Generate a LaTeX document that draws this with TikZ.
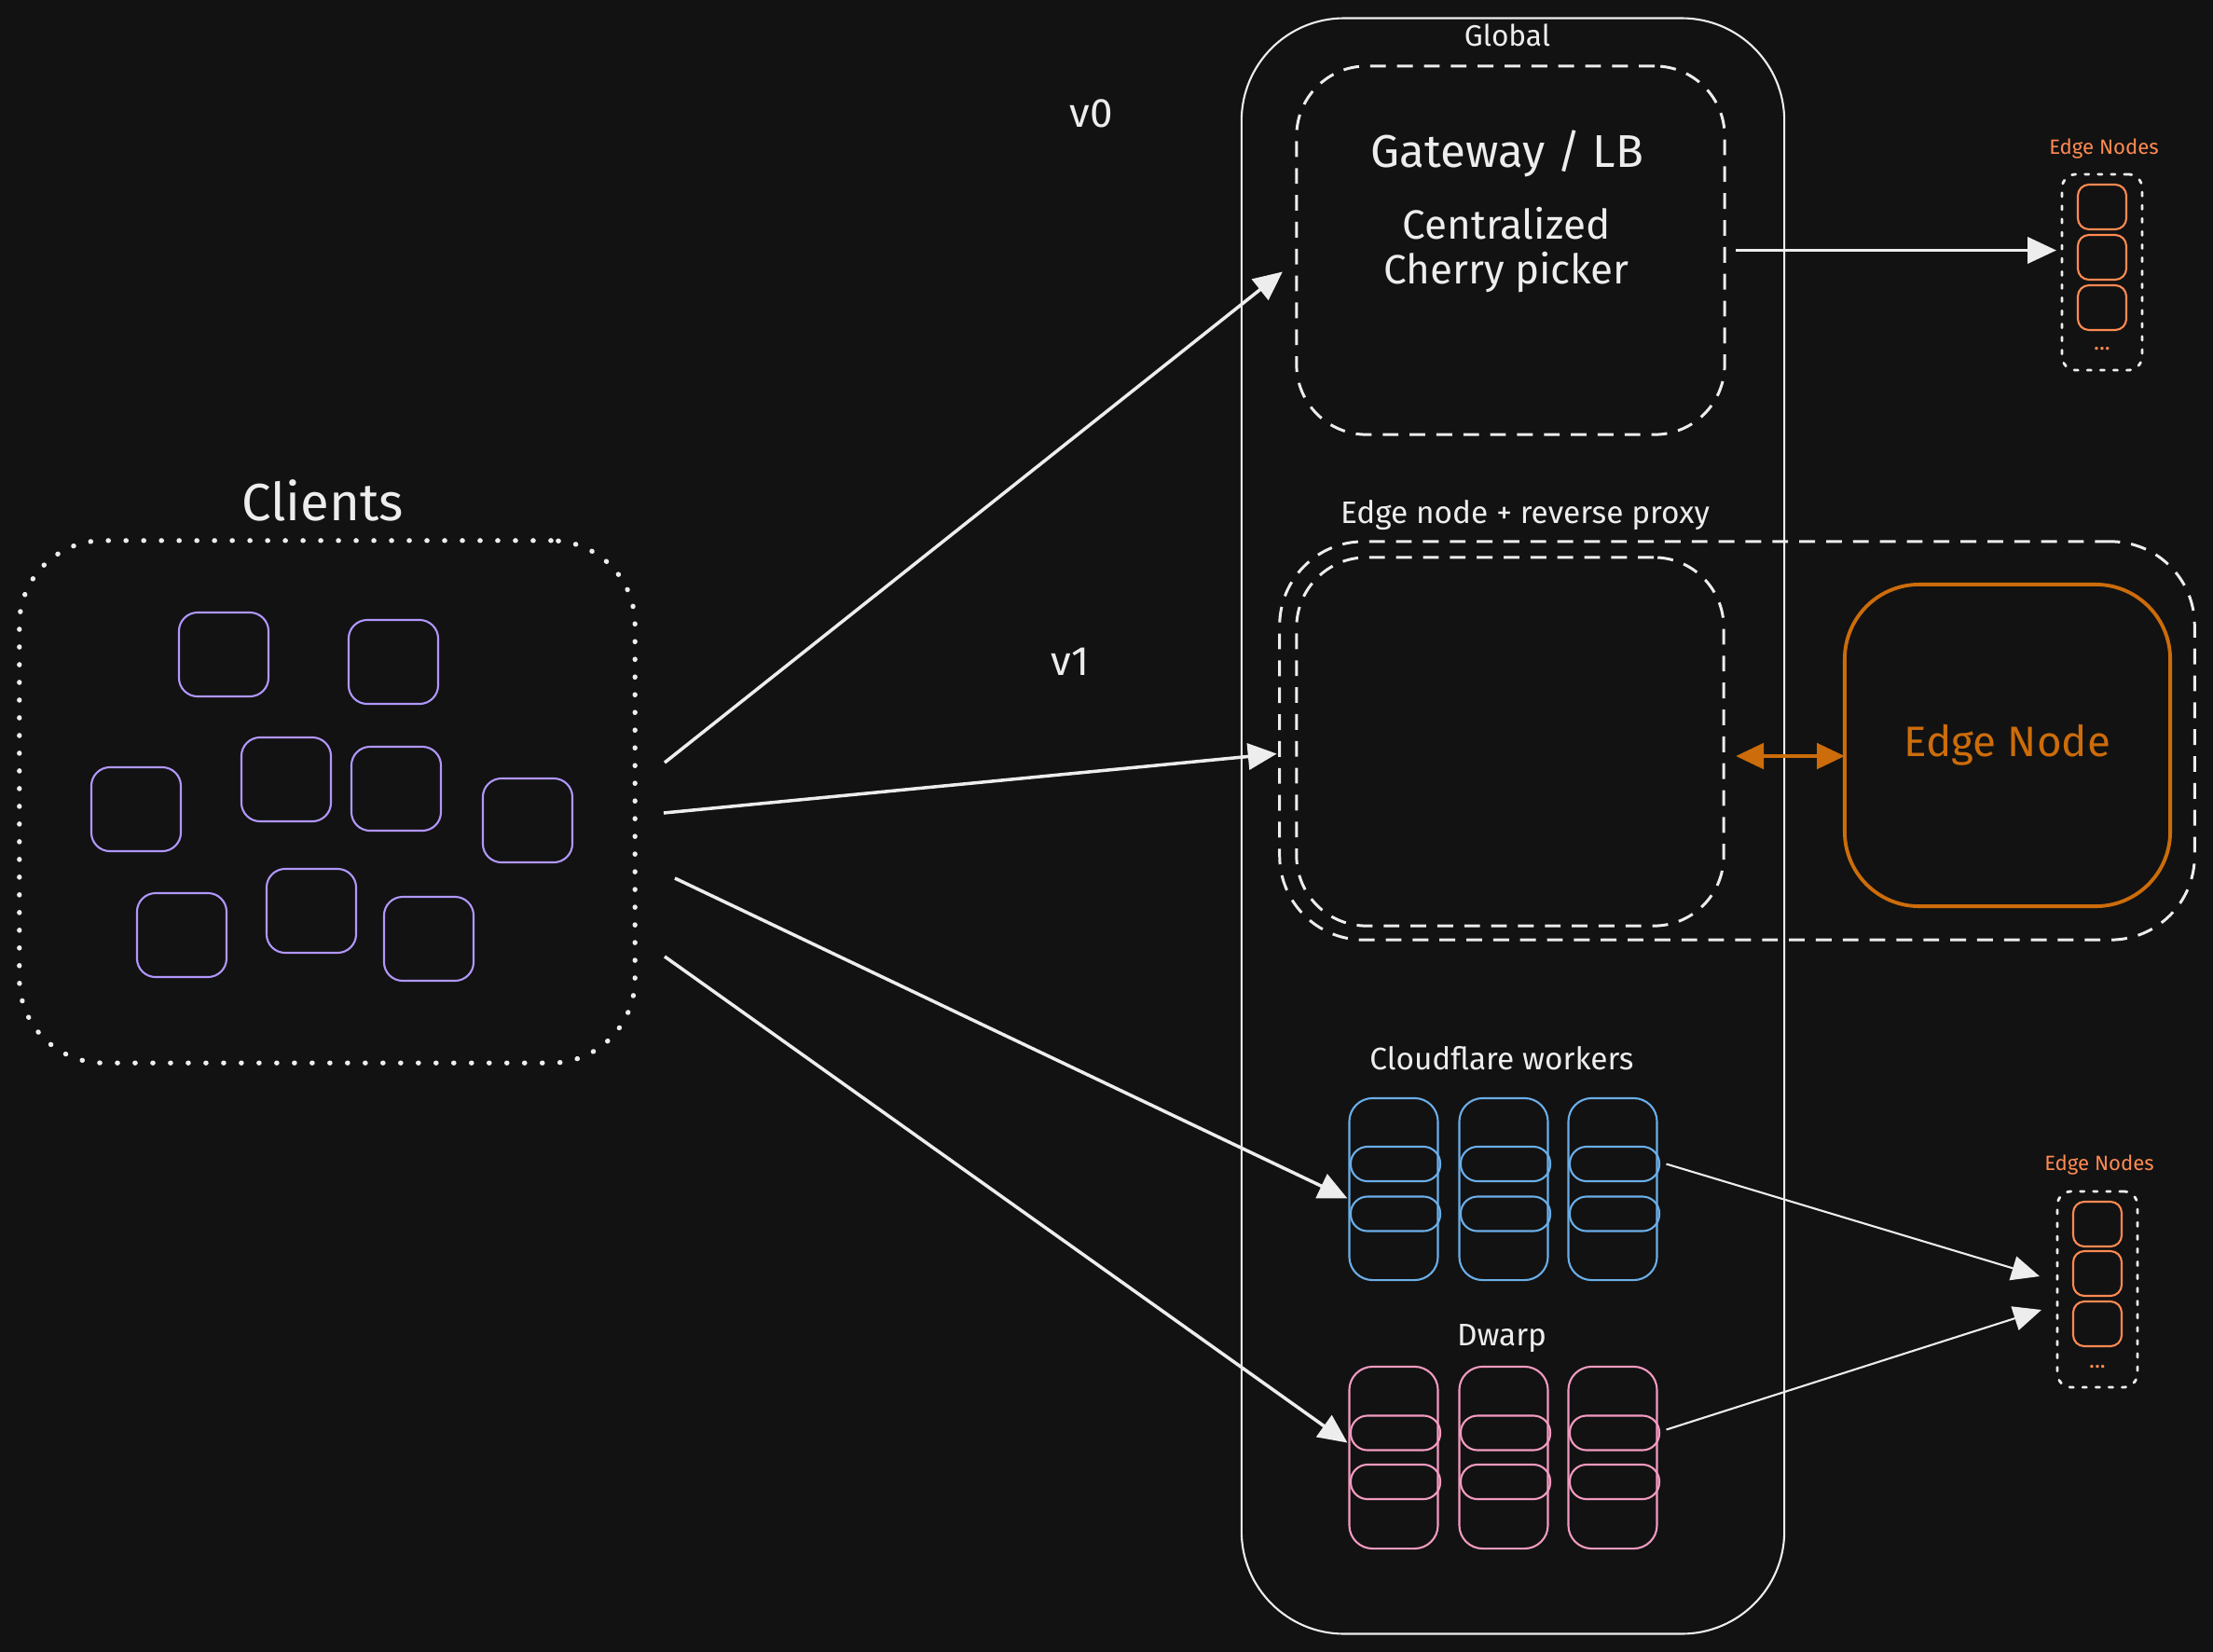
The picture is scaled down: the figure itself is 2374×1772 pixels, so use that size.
\documentclass[tikz,border=0pt]{standalone}
\usepackage{fontspec}
\setmainfont{Fira Sans}
\usetikzlibrary{arrows.meta}
\definecolor{bgc}{HTML}{121212}
\definecolor{ink}{HTML}{EDEDED}
\definecolor{lilac}{HTML}{B197FC}
\definecolor{sky}{HTML}{6AAEE8}
\definecolor{rose}{HTML}{F29AC0}
\definecolor{peach}{HTML}{FF8A52}
\definecolor{amber}{HTML}{CC6C0A}
\tikzset{
  box/.style={inner sep=0pt, outer sep=0pt},
  client/.style={box, draw=lilac, line width=0.6pt, rounded corners=0.2cm,
    minimum width=0.96cm, minimum height=0.9cm},
  enode/.style={box, draw=peach, line width=0.6pt, rounded corners=0.12cm,
    minimum width=0.52cm, minimum height=0.48cm},
  tallw/.style={box, line width=0.6pt, rounded corners=0.25cm,
    minimum width=0.95cm, minimum height=1.95cm},
  pill/.style={box, line width=0.6pt, rounded corners=0.18cm,
    minimum width=0.96cm, minimum height=0.37cm},
  dashbox/.style={box, draw=ink, line width=0.85pt, dash pattern=on 4.8pt off 3.4pt},
  dotbox/.style={box, draw=ink, line width=0.8pt, line cap=round, dash pattern=on 1.2pt off 2.8pt,
    rounded corners=0.15cm, minimum width=0.86cm, minimum height=2.1cm},
  arr/.style={draw=ink, line width=1pt, -{Triangle[length=8.8pt, width=8pt]}},
  thinarr/.style={draw=ink, line width=0.6pt, -{Triangle[length=8.5pt, width=7.5pt]}},
  lbl/.style={text=ink, inner sep=0pt}
}
\begin{document}
\begin{tikzpicture}[x=0.01cm,y=-0.01cm]
  \fill[bgc] (0,0) rectangle (2374,1772);
  \useasboundingbox (0,0) rectangle (2374,1772);

  % clients
  \node[box, draw=ink, line width=1.5pt, line cap=round, dash pattern=on 0.1pt off 5.3pt,
    rounded corners=0.9cm, minimum width=6.6cm, minimum height=5.6cm] (cl) at (351,860) {};
  \node[lbl, font=\fontsize{16}{19}\selectfont] (cltxt) at (346,537) {Clients};
  \foreach \i/\xx/\yy in {1/240/702,2/422/710,3/146/868,4/307/836,5/425/846,
                          6/566/880,7/195/1003,8/334/977,9/460/1007}
    \node[client] (c\i) at (\xx,\yy) {};

  % global column
  \node[box, draw=ink, line width=0.6pt, rounded corners=1.1cm,
    minimum width=5.82cm, minimum height=17.32cm] (glob) at (1623,886) {};
  \node[lbl, font=\fontsize{9}{11}\selectfont] at (1617,38) {Global};

  \node[dashbox, rounded corners=0.75cm, minimum width=4.59cm, minimum height=3.95cm] (gw) at (1620.5,268.5) {};
  \node[lbl, font=\fontsize{14}{17}\selectfont] at (1617,165) {Gateway / LB};
  \node[lbl, align=center, font=\fontsize{12.5}{13.7}\selectfont] at (1616,268) {Centralized\\Cherry picker};

  \node[lbl, font=\fontsize{12.5}{15}\selectfont] at (1171,122) {v0};
  \node[lbl, font=\fontsize{12.5}{15}\selectfont] at (1148,710) {v1};

  % edge node + reverse proxy
  \node[lbl, font=\fontsize{9.5}{11}\selectfont] at (1636,553) {Edge node + reverse proxy};
  \node[dashbox, rounded corners=0.9cm, minimum width=9.81cm, minimum height=4.27cm] (rpo) at (1863.5,794.5) {};
  \node[dashbox, rounded corners=0.75cm, minimum width=4.58cm, minimum height=3.95cm] (rp) at (1620,795.5) {};
  \node[box, draw=amber, line width=1.1pt, rounded corners=0.8cm, minimum width=3.49cm,
    minimum height=3.45cm, text=amber, font=\fontsize{13}{15}\selectfont] (edge) at (2153.5,799.5) {Edge Node};

  % workers
  \node[lbl, font=\fontsize{9.5}{11}\selectfont] at (1611,1135) {Cloudflare workers};
  \node[lbl, font=\fontsize{9.5}{11}\selectfont] at (1611,1436) {Dwarp};
  \foreach \i/\xx in {1/1495,2/1613,3/1730} {
    \node[tallw, draw=sky] (w\i) at (\xx,1275.5) {};
    \node[pill, draw=sky] at (\xx+2,1248.5) {};
    \node[pill, draw=sky] at (\xx+2,1302) {};
    \node[tallw, draw=rose] (d\i) at (\xx,1563.5) {};
    \node[pill, draw=rose] at (\xx+2,1537) {};
    \node[pill, draw=rose] at (\xx+2,1589.5) {};
  }

  % edge nodes
  \node[lbl, text=peach, font=\fontsize{6.3}{8}\selectfont] at (2257,160) {Edge Nodes};
  \node[dotbox] (ent) at (2255,292) {};
  \foreach \i/\yy in {1/222,2/276,3/330}
    \node[enode] (ta\i) at (2255,\yy) {};
  \node[lbl, text=peach, font=\fontsize{7}{8}\selectfont] at (2255,374) {...};

  \node[lbl, text=peach, font=\fontsize{6.3}{8}\selectfont] at (2252,1250) {Edge Nodes};
  \node[dotbox] (enb) at (2250,1383) {};
  \foreach \i/\yy in {1/1313,2/1366,3/1420}
    \node[enode] (tb\i) at (2250,\yy) {};
  \node[lbl, text=peach, font=\fontsize{7}{8}\selectfont] at (2250,1466) {...};

  % connectors
  \coordinate (s1) at (713,818);
  \coordinate (s2) at (712,872);
  \coordinate (s3) at (724,942);
  \coordinate (s4) at (713,1026);
  \draw[arr] (s1) -- ([shift={(-15,23)}]gw.west);
  \draw[arr] (s2) -- ([shift={(-3,14)}]rpo.west);
  \draw[arr] (s3) -- ([shift={(-2,10)}]w1.west);
  \draw[arr] (s4) -- ([shift={(-2,-16)}]d1.west);
  \draw[arr, shorten <=0.12cm, shorten >=0.06cm] (gw.east) -- (gw.east -| ent.west);
  \draw[draw=amber, line width=1.1pt, {Triangle[length=8.5pt, width=7.8pt]}-{Triangle[length=8.5pt, width=7.8pt]},
    shorten <=0.13cm] ([yshift=-0.155cm]rp.east) -- ([yshift=-0.155cm]rp.east -| edge.west);
  \draw[thinarr] ([shift={(10,-27)}]w3.east) -- ([shift={(-19,-14)}]enb.west);
  \draw[thinarr] ([shift={(10,-30)}]d3.east) -- ([shift={(-17,22)}]enb.west);
\end{tikzpicture}
\end{document}
